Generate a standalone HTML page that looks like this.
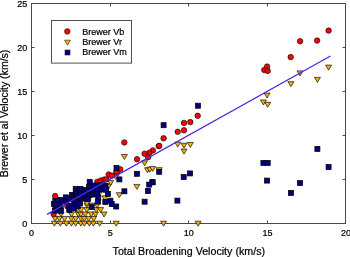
<!DOCTYPE html>
<html><head><meta charset="utf-8"><style>
html,body{margin:0;padding:0;background:#fff;width:350px;height:257px;overflow:hidden}
svg{display:block}
text{font-family:'Liberation Sans',sans-serif;fill:#000;stroke:#000;stroke-width:0.22px}
svg{will-change:transform}
.t{font-size:9px}
.ti{font-size:11px}
.lg{font-size:9px}
</style></head><body>
<svg width="350" height="257" viewBox="0 0 350 257">
<rect x="31.5" y="3.5" width="314.0" height="220.0" fill="none" stroke="#484848" stroke-width="1"/>
<path d="M110.5 223.5v-3M110.5 3.5v3M188.5 223.5v-3M188.5 3.5v3M267.5 223.5v-3M267.5 3.5v3M31.5 179.5h3M345.5 179.5h-3M31.5 135.5h3M345.5 135.5h-3M31.5 91.5h3M345.5 91.5h-3M31.5 47.5h3M345.5 47.5h-3" stroke="#484848" stroke-width="1" fill="none"/>
<text x="31.60" y="236" text-anchor="middle" class="t">0</text>
<text x="110.20" y="236" text-anchor="middle" class="t">5</text>
<text x="188.80" y="236" text-anchor="middle" class="t">10</text>
<text x="267.40" y="236" text-anchor="middle" class="t">15</text>
<text x="346.00" y="236" text-anchor="middle" class="t">20</text>
<text x="27.3" y="226.60" text-anchor="end" class="t">0</text>
<text x="27.3" y="182.64" text-anchor="end" class="t">5</text>
<text x="27.3" y="138.68" text-anchor="end" class="t">10</text>
<text x="27.3" y="94.72" text-anchor="end" class="t">15</text>
<text x="27.3" y="50.76" text-anchor="end" class="t">20</text>
<text x="27.3" y="6.80" text-anchor="end" class="t">25</text>
<text x="188.8" y="255.1" text-anchor="middle" class="ti" textLength="152.5" lengthAdjust="spacingAndGlyphs">Total Broadening Velocity (km/s)</text>
<text transform="translate(7.9,113.4) rotate(-90)" x="0" y="0" text-anchor="middle" class="ti" textLength="127.5" lengthAdjust="spacingAndGlyphs">Brewer et al Velocity (km/s)</text>
<g fill="#f3b000" stroke="#101010" stroke-width="0.7"><path d="M325.6 65.1h6l-3 5z"/><path d="M314.4 77.4h6l-3 5z"/><path d="M297.0 70.9h6l-3 5z"/><path d="M287.9 81.7h6l-3 5z"/><path d="M264.1 93.1h6l-3 5z"/><path d="M260.4 100.0h6l-3 5z"/><path d="M264.7 102.3h6l-3 5z"/><path d="M174.7 142.1h6l-3 5z"/><path d="M181.0 143.2h6l-3 5z"/><path d="M187.3 142.4h6l-3 5z"/><path d="M181.0 149.1h6l-3 5z"/><path d="M121.4 154.5h6l-3 5z"/><path d="M141.6 160.8h6l-3 5z"/><path d="M144.5 167.8h6l-3 5z"/><path d="M146.8 167.2h6l-3 5z"/><path d="M149.7 166.4h6l-3 5z"/><path d="M156.2 167.7h6l-3 5z"/><path d="M51.3 221.2h6l-3 5z"/><path d="M57.3 221.2h6l-3 5z"/><path d="M63.3 221.2h6l-3 5z"/><path d="M68.4 221.2h6l-3 5z"/><path d="M72.7 221.2h6l-3 5z"/><path d="M77.9 221.2h6l-3 5z"/><path d="M81.3 221.2h6l-3 5z"/><path d="M86.4 221.2h6l-3 5z"/><path d="M90.4 221.2h6l-3 5z"/><path d="M96.7 221.2h6l-3 5z"/><path d="M113.2 221.2h6l-3 5z"/><path d="M160.6 221.2h6l-3 5z"/><path d="M195.1 221.2h6l-3 5z"/><path d="M52.1 216.4h6l-3 5z"/><path d="M56.4 216.4h6l-3 5z"/><path d="M61.6 216.4h6l-3 5z"/><path d="M68.4 216.4h6l-3 5z"/><path d="M72.7 216.4h6l-3 5z"/><path d="M77.9 216.4h6l-3 5z"/><path d="M81.3 216.4h6l-3 5z"/><path d="M85.6 216.4h6l-3 5z"/><path d="M90.7 216.4h6l-3 5z"/><path d="M58.1 212.0h6l-3 5z"/><path d="M68.4 212.0h6l-3 5z"/><path d="M75.3 212.0h6l-3 5z"/><path d="M77.9 212.0h6l-3 5z"/><path d="M82.2 212.0h6l-3 5z"/><path d="M88.2 212.0h6l-3 5z"/><path d="M92.5 212.0h6l-3 5z"/><path d="M101.0 212.0h6l-3 5z"/><path d="M73.6 207.6h6l-3 5z"/><path d="M77.9 207.6h6l-3 5z"/><path d="M83.9 207.6h6l-3 5z"/><path d="M93.3 207.6h6l-3 5z"/><path d="M97.6 207.6h6l-3 5z"/><path d="M83.9 203.1h6l-3 5z"/><path d="M89.0 203.1h6l-3 5z"/><path d="M94.2 203.1h6l-3 5z"/><path d="M83.9 201.1h6l-3 5z"/><path d="M101.9 195.8h6l-3 5z"/><path d="M116.3 192.7h6l-3 5z"/><path d="M105.6 183.9h6l-3 5z"/><path d="M107.7 180.4h6l-3 5z"/><path d="M133.9 184.4h6l-3 5z"/><path d="M97.0 190.3h6l-3 5z"/><path d="M95.7 188.2h6l-3 5z"/><path d="M112.9 174.6h6l-3 5z"/></g>
<g fill="#ff0000" stroke="#101010" stroke-width="0.7"><circle cx="328.6" cy="30.6" r="2.75"/><circle cx="317.1" cy="40.6" r="2.75"/><circle cx="300.1" cy="41.3" r="2.75"/><circle cx="290.7" cy="57.1" r="2.75"/><circle cx="267.1" cy="66.6" r="2.75"/><circle cx="264.3" cy="70.0" r="2.75"/><circle cx="267.7" cy="70.9" r="2.75"/><circle cx="163.6" cy="138.3" r="2.75"/><circle cx="158.8" cy="146.1" r="2.75"/><circle cx="152.9" cy="150.4" r="2.75"/><circle cx="149.4" cy="152.7" r="2.75"/><circle cx="177.7" cy="131.8" r="2.75"/><circle cx="184.0" cy="130.3" r="2.75"/><circle cx="184.0" cy="122.9" r="2.75"/><circle cx="190.3" cy="122.1" r="2.75"/><circle cx="197.7" cy="115.8" r="2.75"/><circle cx="124.3" cy="142.4" r="2.75"/><circle cx="137.0" cy="159.2" r="2.75"/><circle cx="144.6" cy="153.7" r="2.75"/><circle cx="148.1" cy="157.2" r="2.75"/><circle cx="159.2" cy="145.9" r="2.75"/><circle cx="55.2" cy="196.0" r="2.75"/><circle cx="53.6" cy="214.1" r="2.75"/><circle cx="64.6" cy="201.0" r="2.75"/><circle cx="67.3" cy="206.3" r="2.75"/><circle cx="77.5" cy="202.2" r="2.75"/><circle cx="88.9" cy="186.0" r="2.75"/><circle cx="97.4" cy="181.8" r="2.75"/><circle cx="100.9" cy="180.6" r="2.75"/><circle cx="104.4" cy="179.5" r="2.75"/><circle cx="106.4" cy="179.5" r="2.75"/><circle cx="108.7" cy="174.5" r="2.75"/><circle cx="111.8" cy="175.7" r="2.75"/><circle cx="116.6" cy="172.4" r="2.75"/><circle cx="120.2" cy="169.3" r="2.75"/><circle cx="116.4" cy="171.7" r="2.75"/></g>
<g fill="#000080" stroke="#000" stroke-width="0.75"><rect x="314.9" y="146.4" width="5" height="5"/><rect x="326.1" y="164.6" width="5" height="5"/><rect x="260.9" y="160.4" width="5" height="5"/><rect x="265.2" y="160.4" width="5" height="5"/><rect x="264.6" y="178.1" width="5" height="5"/><rect x="297.5" y="180.6" width="5" height="5"/><rect x="288.4" y="190.4" width="5" height="5"/><rect x="195.5" y="103.2" width="5" height="5"/><rect x="161.1" y="122.7" width="5" height="5"/><rect x="156.7" y="169.3" width="5" height="5"/><rect x="181.2" y="174.6" width="5" height="5"/><rect x="187.5" y="170.9" width="5" height="5"/><rect x="149.8" y="179.8" width="5" height="5"/><rect x="174.9" y="198.1" width="5" height="5"/><rect x="134.5" y="171.3" width="5" height="5"/><rect x="114.0" y="165.6" width="5" height="5"/><rect x="116.9" y="176.9" width="5" height="5"/><rect x="121.9" y="188.8" width="5" height="5"/><rect x="150.2" y="179.7" width="5" height="5"/><rect x="146.7" y="182.1" width="5" height="5"/><rect x="145.5" y="188.5" width="5" height="5"/><rect x="142.1" y="199.2" width="5" height="5"/><rect x="51.5" y="201.5" width="5" height="5"/><rect x="52.8" y="198.4" width="5" height="5"/><rect x="53.2" y="206.0" width="5" height="5"/><rect x="52.5" y="208.0" width="5" height="5"/><rect x="54.0" y="202.5" width="5" height="5"/><rect x="58.4" y="197.5" width="5" height="5"/><rect x="57.5" y="201.8" width="5" height="5"/><rect x="58.2" y="206.0" width="5" height="5"/><rect x="58.2" y="208.5" width="5" height="5"/><rect x="63.5" y="194.9" width="5" height="5"/><rect x="63.9" y="199.2" width="5" height="5"/><rect x="66.8" y="203.5" width="5" height="5"/><rect x="66.8" y="207.5" width="5" height="5"/><rect x="69.5" y="192.4" width="5" height="5"/><rect x="69.5" y="196.6" width="5" height="5"/><rect x="71.3" y="201.5" width="5" height="5"/><rect x="71.3" y="206.0" width="5" height="5"/><rect x="73.2" y="186.5" width="5" height="5"/><rect x="73.8" y="190.2" width="5" height="5"/><rect x="74.5" y="194.5" width="5" height="5"/><rect x="75.0" y="199.5" width="5" height="5"/><rect x="75.5" y="203.5" width="5" height="5"/><rect x="78.0" y="186.5" width="5" height="5"/><rect x="78.0" y="191.1" width="5" height="5"/><rect x="78.5" y="195.5" width="5" height="5"/><rect x="77.5" y="201.0" width="5" height="5"/><rect x="83.0" y="187.5" width="5" height="5"/><rect x="83.0" y="191.5" width="5" height="5"/><rect x="83.0" y="196.0" width="5" height="5"/><rect x="87.2" y="179.4" width="5" height="5"/><rect x="87.2" y="184.0" width="5" height="5"/><rect x="87.0" y="188.5" width="5" height="5"/><rect x="86.9" y="192.6" width="5" height="5"/><rect x="85.6" y="196.5" width="5" height="5"/><rect x="91.5" y="183.0" width="5" height="5"/><rect x="91.5" y="187.5" width="5" height="5"/><rect x="91.0" y="192.0" width="5" height="5"/><rect x="89.2" y="204.6" width="5" height="5"/><rect x="95.5" y="183.0" width="5" height="5"/><rect x="95.5" y="187.0" width="5" height="5"/><rect x="94.6" y="191.4" width="5" height="5"/><rect x="95.8" y="195.2" width="5" height="5"/><rect x="95.5" y="199.1" width="5" height="5"/><rect x="99.5" y="182.5" width="5" height="5"/><rect x="100.0" y="187.0" width="5" height="5"/><rect x="102.8" y="199.5" width="5" height="5"/><rect x="103.0" y="183.5" width="5" height="5"/><rect x="103.6" y="187.1" width="5" height="5"/><rect x="105.4" y="191.4" width="5" height="5"/><rect x="107.9" y="198.2" width="5" height="5"/><rect x="109.2" y="201.6" width="5" height="5"/><rect x="113.7" y="204.0" width="5" height="5"/></g>
<line x1="47" y1="214.4" x2="330.5" y2="56.0" stroke="#4d26e2" stroke-width="1.25"/>
<rect x="51.5" y="20.5" width="80" height="42.6" fill="#fff" stroke="#505050" stroke-width="1"/>
<g stroke="#202020" stroke-width="0.6"><circle cx="67.3" cy="31.4" r="2.8" fill="#ff0000"/><path d="M64.5 40.2h6l-3 5z" fill="#f5b800"/><rect x="65" y="50" width="5" height="5" fill="#000080"/></g>
<text x="82.3" y="34.7" class="lg">Brewer Vb</text>
<text x="82.3" y="44.7" class="lg">Brewer Vr</text>
<text x="82.3" y="54.7" class="lg">Brewer Vm</text>
</svg>
</body></html>
